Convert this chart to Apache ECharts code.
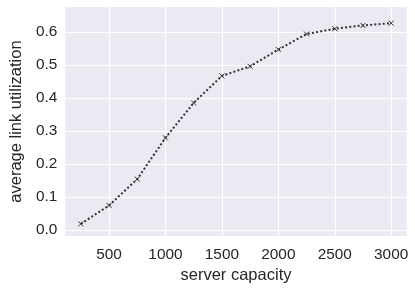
<!DOCTYPE html>
<html>
<head>
<meta charset="utf-8">
<script src="https://cdn.jsdelivr.net/npm/echarts@6/dist/echarts.min.js"></script>
<style>html,body{margin:0;padding:0;background:#fff}#c{width:415px;height:289px}</style>
</head>
<body>
<div id="c"></div>
<script>
const capacities = [250, 500, 750, 1000, 1250, 1500, 1750, 2000, 2250, 2500, 2750, 3000];
const utilization = [0.018, 0.074, 0.154, 0.279, 0.385, 0.467, 0.496, 0.547, 0.594, 0.610, 0.620, 0.627];
const xTicks = [500, 1000, 1500, 2000, 2500, 3000];
const yTicks = [0.0, 0.1, 0.2, 0.3, 0.4, 0.5, 0.6];

const chart = echarts.init(document.getElementById('c'), null, {renderer: 'canvas'});
const textColor = '#262626';
const font = '"Liberation Sans", Arial, sans-serif';
chart.setOption({
  animation: false,
  backgroundColor: '#ffffff',
  grid: {left: 57.3, right: 8.3, top: 7, bottom: 50.3, show: true, backgroundColor: '#EAEAF2', borderWidth: 0},
  xAxis: {
    type: 'value', min: 112.5, max: 3137.5,
    name: 'server capacity', nameLocation: 'middle', nameGap: 26,
    nameTextStyle: {color: textColor, fontSize: 16.5, fontFamily: font},
    axisLine: {show: false},
    axisTick: {show: false, customValues: xTicks},
    axisLabel: {customValues: xTicks, color: textColor, fontSize: 15.4, fontFamily: font, margin: 11,
      formatter: v => String(v)},
    splitLine: {show: true, lineStyle: {color: '#ffffff', width: 1.2}}
  },
  yAxis: {
    type: 'value', min: -0.019, max: 0.676,
    name: 'average link utilization', nameLocation: 'middle', nameGap: 34,
    nameTextStyle: {color: textColor, fontSize: 16.5, fontFamily: font},
    axisLine: {show: false},
    axisTick: {show: false, customValues: yTicks},
    axisLabel: {customValues: yTicks, color: textColor, fontSize: 15.4, fontFamily: font, margin: 8,
      formatter: v => v.toFixed(1)},
    splitLine: {show: true, lineStyle: {color: '#ffffff', width: 1.2}}
  },
  series: [{
    type: 'line',
    data: capacities.map((c, i) => [c, utilization[i]]),
    symbol: 'path://M0,0L10,10M10,0L0,10',
    symbolSize: 5,
    itemStyle: {color: 'rgba(0,0,0,0)', borderColor: '#333333', borderWidth: 1},
    lineStyle: {color: '#333333', width: 2, type: [2, 2.2], cap: 'butt'},
    emphasis: {disabled: true}
  }]
});
</script>
</body>
</html>
